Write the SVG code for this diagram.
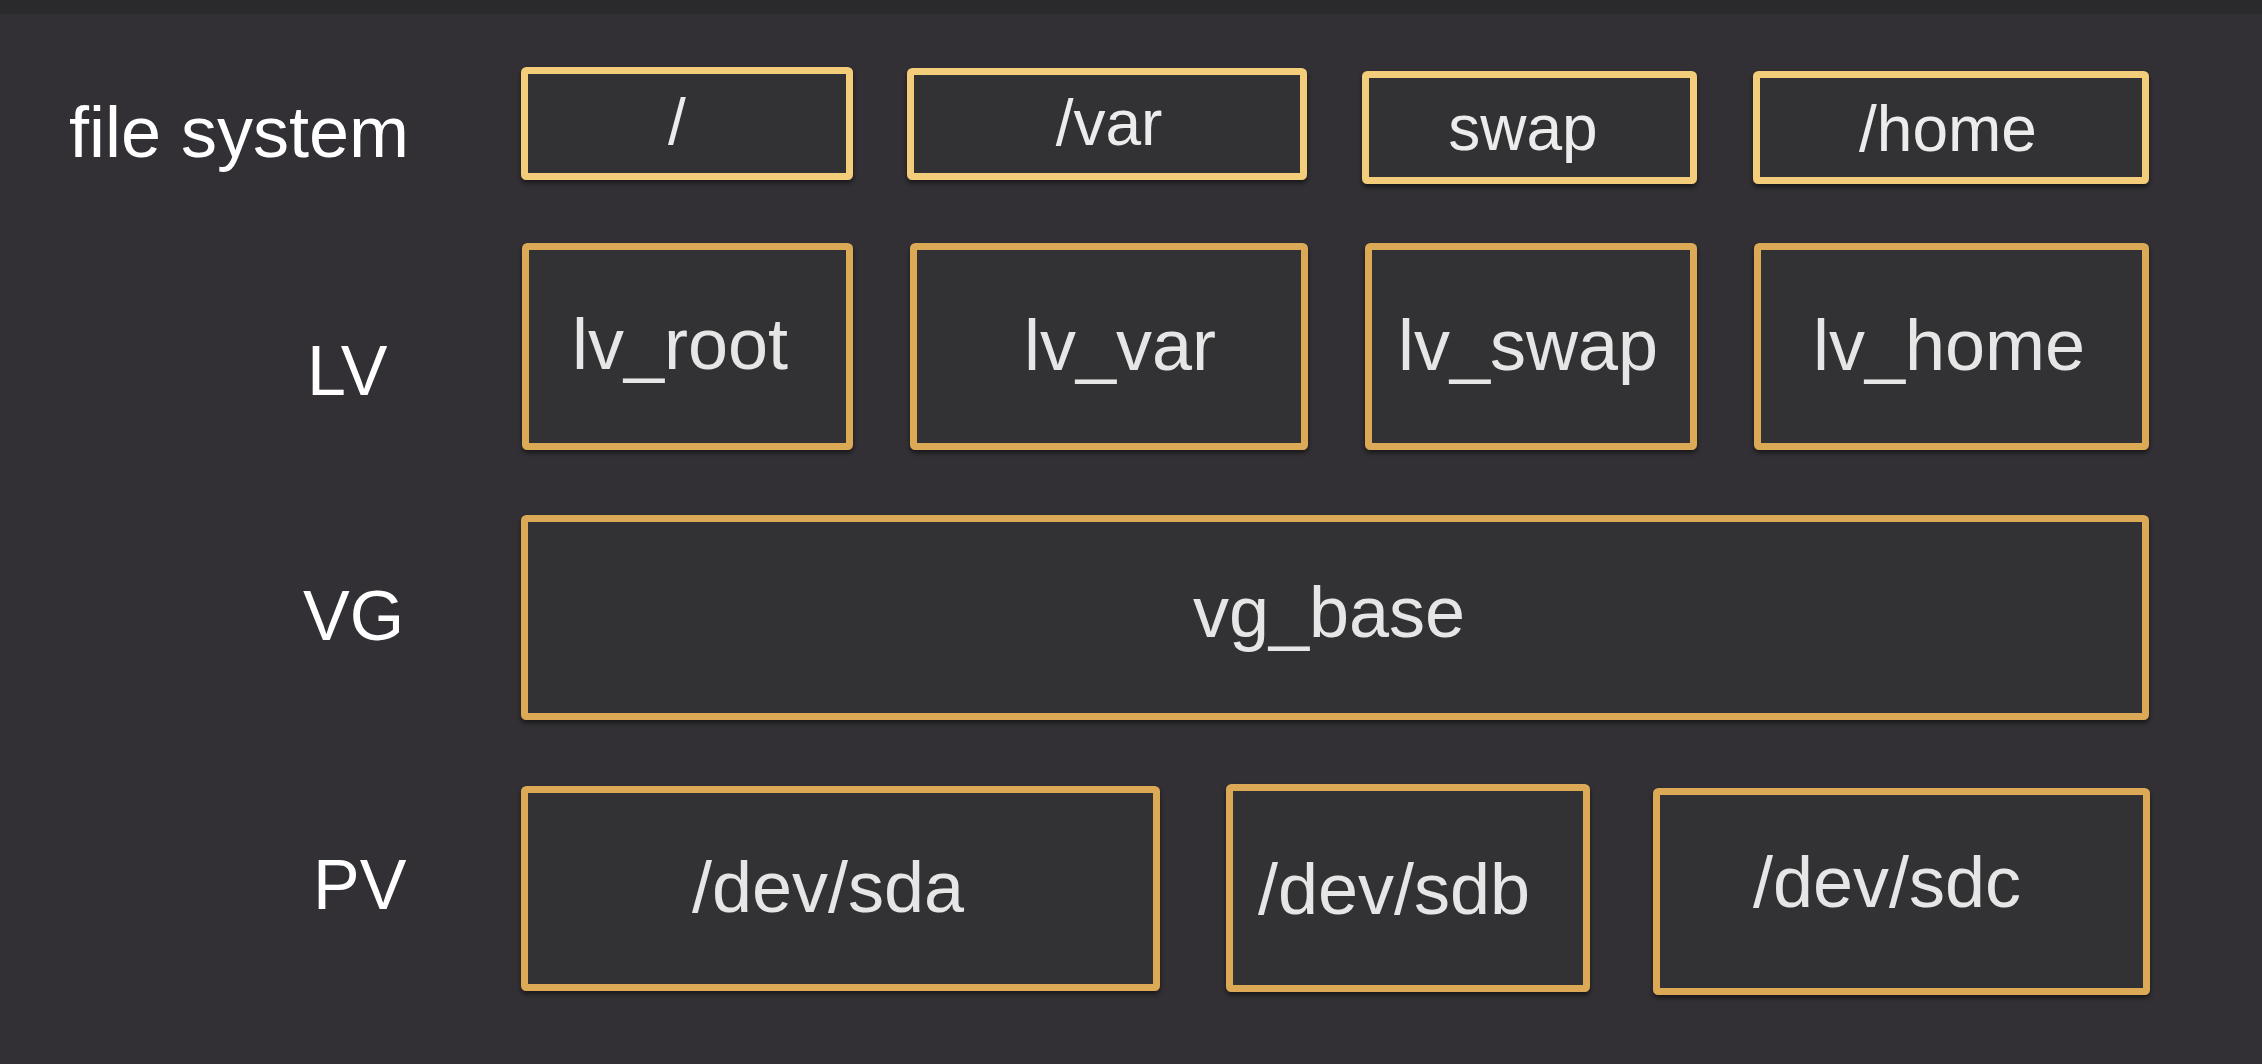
<svg xmlns="http://www.w3.org/2000/svg" width="2262" height="1064" viewBox="0 0 2262 1064">
<defs>
<filter id="sh" x="-5%" y="-5%" width="110%" height="115%">
<feDropShadow dx="0" dy="3" stdDeviation="2.5" flood-color="#000" flood-opacity="0.55"/>
</filter>
<style>
.fs{fill:#323034;stroke:#f4cd7a;stroke-width:7;filter:url(#sh)}
.bx{fill:#323034;stroke:#dcaa56;stroke-width:7;filter:url(#sh)}
.rl{font-family:"Liberation Sans",Arial,sans-serif;fill:#ffffff;font-size:70px}
.t1{font-family:"Liberation Sans",Arial,sans-serif;fill:#ececec;font-size:64px;text-anchor:middle}
.t2{font-family:"Liberation Sans",Arial,sans-serif;fill:#e6e6e6;font-size:72px;text-anchor:middle}
</style>
</defs>
<rect x="0" y="0" width="2262" height="1064" fill="#323034"/>
<rect x="0" y="0" width="2262" height="14" fill="#2a2a2c"/>

<g id="labels">
<text class="rl" x="69" y="157" style="font-size:72px">file system</text>
<text class="rl" x="307" y="395">LV</text>
<text class="rl" x="303" y="640">VG</text>
<text class="rl" x="313" y="909">PV</text>
</g>

<g id="fs-root"><rect class="fs" x="524.5" y="70.5" width="325" height="106" rx="2"/><text class="t1" x="677" y="144">/</text></g>
<g id="fs-var"><rect class="fs" x="910.5" y="71.5" width="393" height="105" rx="2"/><text class="t1" x="1109" y="145">/var</text></g>
<g id="fs-swap"><rect class="fs" x="1365.5" y="74.5" width="328" height="106" rx="2"/><text class="t1" x="1523" y="150">swap</text></g>
<g id="fs-home"><rect class="fs" x="1756.5" y="74.5" width="389" height="106" rx="2"/><text class="t1" x="1948" y="151">/home</text></g>

<g id="lv-root"><rect class="bx" x="525.5" y="246.5" width="324" height="200" rx="2"/><text class="t2" x="680" y="369">lv_root</text></g>
<g id="lv-var"><rect class="bx" x="913.5" y="246.5" width="391" height="200" rx="2"/><text class="t2" x="1120" y="370">lv_var</text></g>
<g id="lv-swap"><rect class="bx" x="1368.5" y="246.5" width="325" height="200" rx="2"/><text class="t2" x="1528" y="370">lv_swap</text></g>
<g id="lv-home"><rect class="bx" x="1757.5" y="246.5" width="388" height="200" rx="2"/><text class="t2" x="1949" y="370">lv_home</text></g>

<g id="vg-base"><rect class="bx" x="524.5" y="518.5" width="1621" height="198" rx="2"/><text class="t2" x="1329" y="637">vg_base</text></g>

<g id="pv-sda"><rect class="bx" x="524.5" y="789.5" width="632" height="198" rx="2"/><text class="t2" x="828" y="912">/dev/sda</text></g>
<g id="pv-sdb"><rect class="bx" x="1229.5" y="787.5" width="357" height="201" rx="2"/><text class="t2" x="1394" y="914">/dev/sdb</text></g>
<g id="pv-sdc"><rect class="bx" x="1656.5" y="791.5" width="490" height="200" rx="2"/><text class="t2" x="1887" y="907">/dev/sdc</text></g>

<g id="connectors"></g>
</svg>
